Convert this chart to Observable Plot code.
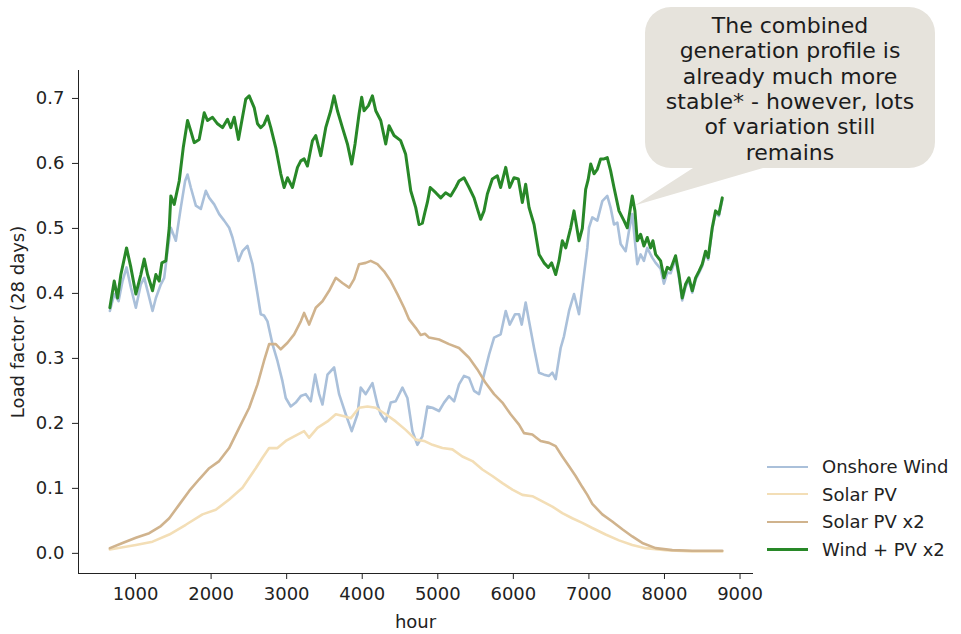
<!DOCTYPE html>
<html>
<head>
<meta charset="utf-8">
<script src="https://cdn.jsdelivr.net/npm/d3@7"></script>
<script src="https://cdn.jsdelivr.net/npm/@observablehq/plot@0.6"></script>
<style>
  html, body { margin: 0; padding: 0; background: #fff; }
  #wrap { position: relative; width: 961px; height: 634px; overflow: hidden; font-family: "DejaVu Sans", sans-serif; }
  #legend { position: absolute; left: 767px; top: 453px; }
  .row { display: flex; align-items: center; height: 27.5px; font-size: 18px; color: #222; }
  .swatch { width: 41px; height: 0; margin-right: 14px; }
  #bubble { position: absolute; left: 0; top: 0; pointer-events: none; }
</style>
</head>
<body>
<div id="wrap"></div>
<script>
// ---- data ----
const seriesNames = ["Onshore Wind", "Solar PV", "Solar PV x2", "Wind + PV x2"];
const seriesColors = ["#aac0da", "#f3deb6", "#d0b38d", "#288828"];

const windHours = [660,718,775,828,881,938,1004,1070,1115,1159,1225,1269,1335,1379,1423,1467,1533,1599,1656,1688,1731,1798,1864,1930,1975,2041,2107,2173,2239,2283,2362,2415,2481,2548,2614,2657,2700,2746,2812,2878,2944,2988,3054,3120,3187,3253,3319,3377,3430,3474,3540,3628,3694,3782,3861,3937,3980,4046,4135,4201,4245,4311,4377,4443,4532,4598,4664,4730,4796,4862,4929,5017,5083,5149,5216,5281,5347,5414,5480,5546,5612,5679,5745,5832,5899,5952,6023,6075,6111,6163,6208,6274,6340,6406,6472,6516,6560,6626,6670,6737,6803,6869,6935,6979,7001,7045,7111,7177,7243,7287,7332,7376,7420,7486,7530,7574,7618,7640,7684,7728,7772,7838,7883,7949,7993,8037,8081,8147,8192,8235,8279,8324,8368,8412,8456,8500,8544,8579,8632,8676,8720,8765];
const windValues = [.373,.399,.388,.419,.440,.409,.378,.414,.424,.404,.373,.393,.414,.424,.465,.501,.481,.532,.573,.583,.563,.535,.530,.558,.547,.537,.522,.512,.501,.486,.450,.465,.473,.445,.399,.368,.366,.357,.322,.296,.265,.239,.226,.232,.242,.245,.234,.275,.245,.229,.275,.286,.245,.214,.188,.214,.255,.245,.262,.229,.214,.203,.232,.234,.255,.239,.188,.167,.180,.226,.224,.219,.232,.242,.234,.260,.273,.270,.250,.245,.275,.306,.332,.337,.373,.352,.368,.368,.352,.386,.357,.316,.278,.275,.273,.278,.268,.316,.334,.373,.399,.368,.429,.470,.501,.517,.512,.542,.550,.532,.506,.509,.476,.465,.496,.522,.470,.445,.460,.450,.470,.455,.447,.438,.415,.432,.431,.453,.424,.389,.410,.420,.401,.421,.431,.442,.462,.452,.498,.524,.519,.544];

const pvHours = [660,1004,1225,1446,1665,1886,2062,2239,2415,2591,2680,2768,2878,2988,3099,3231,3297,3407,3540,3650,3760,3849,3958,4069,4179,4311,4443,4575,4708,4818,4929,5061,5193,5325,5458,5590,5722,5855,5987,6119,6251,6384,6516,6648,6780,6913,7045,7221,7398,7574,7750,8015,8368,8765];
const pvValues = [.006,.013,.018,.029,.044,.060,.067,.083,.101,.131,.147,.162,.162,.173,.180,.188,.178,.193,.203,.214,.211,.208,.224,.226,.224,.214,.203,.190,.175,.173,.167,.162,.160,.149,.142,.129,.119,.108,.098,.090,.088,.080,.072,.062,.054,.047,.039,.029,.020,.013,.008,.005,.003,.003];

const pv2Hours = [660,828,1004,1181,1335,1446,1578,1710,1842,1975,2107,2239,2371,2504,2614,2700,2768,2856,2922,3011,3099,3187,3231,3297,3385,3474,3562,3650,3738,3827,3893,3958,4046,4112,4201,4289,4377,4466,4554,4620,4708,4774,4830,4884,5017,5149,5281,5414,5524,5634,5745,5855,5964,6075,6141,6251,6361,6472,6560,6648,6737,6824,6913,6979,7045,7177,7309,7442,7574,7706,7883,8103,8368,8765];
const pv2Values = [.008,.016,.024,.031,.042,.054,.075,.096,.114,.131,.142,.162,.193,.224,.260,.296,.322,.322,.314,.324,.337,.357,.370,.352,.378,.388,.404,.424,.416,.409,.422,.445,.447,.450,.445,.434,.419,.399,.378,.360,.347,.336,.338,.332,.329,.322,.316,.301,.283,.262,.245,.232,.214,.198,.185,.183,.173,.170,.165,.149,.134,.119,.102,.090,.076,.060,.049,.037,.026,.016,.008,.005,.004,.004];

const comboHours = [660,718,762,806,881,938,1004,1070,1115,1159,1225,1269,1313,1348,1401,1446,1467,1512,1578,1631,1688,1731,1776,1842,1909,1952,2019,2085,2151,2217,2261,2306,2362,2415,2459,2504,2570,2614,2657,2700,2746,2790,2856,2922,2966,3011,3077,3143,3187,3231,3275,3341,3385,3451,3517,3583,3627,3672,3738,3804,3861,3905,3958,3993,4024,4082,4135,4179,4245,4311,4355,4421,4509,4575,4642,4708,4752,4796,4830,4862,4900,4973,5039,5104,5170,5237,5281,5347,5414,5480,5524,5567,5612,5656,5722,5788,5832,5899,5952,6009,6066,6119,6163,6208,6274,6340,6406,6463,6507,6560,6604,6648,6693,6759,6803,6869,6913,6957,6990,7024,7068,7111,7155,7200,7243,7287,7332,7398,7464,7508,7574,7609,7640,7684,7728,7772,7816,7847,7883,7949,7993,8037,8081,8147,8192,8235,8279,8324,8368,8412,8456,8500,8544,8579,8632,8676,8720,8765];
const comboValues = [.378,.419,.393,.429,.470,.440,.399,.429,.453,.429,.404,.429,.419,.447,.450,.501,.550,.537,.573,.624,.666,.650,.632,.637,.678,.666,.671,.661,.655,.668,.655,.671,.637,.671,.699,.704,.686,.661,.655,.660,.673,.655,.624,.584,.563,.578,.563,.594,.604,.607,.596,.635,.643,.612,.655,.681,.704,.681,.655,.630,.599,.630,.676,.702,.681,.689,.704,.681,.666,.630,.658,.643,.635,.614,.558,.532,.506,.508,.525,.540,.563,.555,.547,.555,.550,.563,.573,.578,.563,.547,.530,.514,.527,.553,.576,.581,.563,.594,.563,.578,.576,.540,.568,.532,.506,.460,.447,.440,.447,.429,.450,.481,.470,.501,.527,.481,.500,.560,.575,.599,.584,.591,.607,.607,.609,.589,.563,.527,.512,.501,.550,.527,.481,.491,.473,.486,.470,.481,.460,.450,.424,.440,.437,.458,.429,.393,.414,.424,.404,.424,.434,.445,.465,.455,.501,.527,.522,.547];

const xTicks = [1000,2000,3000,4000,5000,6000,7000,8000,9000];
const yTicks = [0,0.1,0.2,0.3,0.4,0.5,0.6,0.7];
const calloutLines = ["The combined","generation profile is","already much more","stable* - however, lots","of variation still","remains"];
const calloutTarget = {hour: 7620, value: 0.535};

// ---- build tables ----
const toRows = (hs, vs) => hs.map((h, i) => ({hour: h, value: vs[i]}));
const tables = [
  toRows(windHours, windValues),
  toRows(pvHours, pvValues),
  toRows(pv2Hours, pv2Values),
  toRows(comboHours, comboValues)
];
const widths = [2.6, 2.6, 2.6, 3];

const chart = Plot.plot({
  width: 961,
  height: 634,
  marginLeft: 78,
  marginRight: 209,
  marginTop: 70,
  marginBottom: 61,
  style: {fontFamily: "DejaVu Sans", fontSize: "18px", color: "#222", background: "transparent", overflow: "visible"},
  x: {domain: [245, 9165], ticks: xTicks, tickFormat: d => String(d), line: true, tickSize: 6, tickPadding: 8,
      label: "hour", labelAnchor: "center", labelOffset: 54, labelArrow: "none"},
  y: {domain: [-0.031, 0.743], ticks: yTicks, tickFormat: d3.format(".1f"), line: true, tickSize: 6, tickPadding: 8,
      label: "Load factor (28 days)", labelAnchor: "center", labelOffset: 67, labelArrow: "none"},
  marks: tables.map((t, i) => Plot.line(t, {x: "hour", y: "value", stroke: seriesColors[i], strokeWidth: widths[i], strokeLinejoin: "round", strokeLinecap: "round"}))
});

const wrap = document.getElementById("wrap");
wrap.appendChild(chart);

// ---- legend ----
const legend = document.createElement("div");
legend.id = "legend";
seriesNames.forEach((name, i) => {
  const row = document.createElement("div");
  row.className = "row";
  const sw = document.createElement("div");
  sw.className = "swatch";
  sw.style.borderTop = `${widths[i]}px solid ${seriesColors[i]}`;
  const lab = document.createElement("span");
  lab.textContent = name;
  row.appendChild(sw);
  row.appendChild(lab);
  legend.appendChild(row);
});
wrap.appendChild(legend);

// ---- callout bubble ----
const sx = chart.scale("x"), sy = chart.scale("y");
const tipX = sx.apply(calloutTarget.hour), tipY = sy.apply(calloutTarget.value);
const bx0 = 645, bx1 = 935, by0 = 7, by1 = 168, r = 26;
const ns = "http://www.w3.org/2000/svg";
const svg = document.createElementNS(ns, "svg");
svg.setAttribute("id", "bubble");
svg.setAttribute("width", 961);
svg.setAttribute("height", 634);
const path = document.createElementNS(ns, "path");
path.setAttribute("d",
  `M${bx0 + r},${by0} H${bx1 - r} A${r},${r} 0 0 1 ${bx1},${by0 + r} V${by1 - r} A${r},${r} 0 0 1 ${bx1 - r},${by1}` +
  ` H763 L${tipX},${tipY} L693,${by1} H${bx0 + r} A${r},${r} 0 0 1 ${bx0},${by1 - r} V${by0 + r} A${r},${r} 0 0 1 ${bx0 + r},${by0} Z`);
path.setAttribute("fill", "#e6e3dc");
svg.appendChild(path);
calloutLines.forEach((line, i) => {
  const t = document.createElementNS(ns, "text");
  t.setAttribute("x", (bx0 + bx1) / 2);
  t.setAttribute("y", 33 + i * 25.3);
  t.setAttribute("text-anchor", "middle");
  t.setAttribute("font-family", "DejaVu Sans");
  t.setAttribute("font-size", "22px");
  t.setAttribute("fill", "#1c1c1c");
  t.textContent = line;
  svg.appendChild(t);
});
wrap.appendChild(svg);
</script>
</body>
</html>
